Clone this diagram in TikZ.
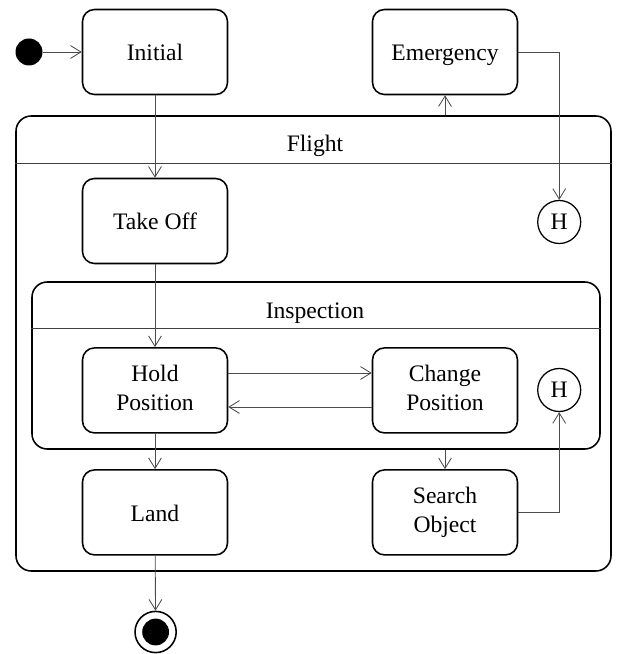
\documentclass[tikz,border=0pt]{standalone}
\usepackage{fontspec}
\setmainfont{Liberation Serif}
\usepackage{xcolor}
\usetikzlibrary{arrows.meta}

\begin{document}
\begin{tikzpicture}[
  font=\fontsize{16.8}{20.6}\selectfont,
  state/.style={rectangle,draw,line width=1.1pt,rounded corners=0.3cm,minimum width=3.625cm,minimum height=2.125cm,align=center,execute at begin node={\rule{0pt}{0.95em}},execute at end node={\rule[-0.22em]{0pt}{0.22em}}},
  composite/.style={rectangle,draw,line width=1.1pt,rounded corners=0.38cm,inner sep=0pt},
  divider/.style={draw=black!75,line width=0.7pt},
  history/.style={circle,draw,line width=0.9pt,minimum size=1.075cm,inner sep=0pt},
  startdot/.style={circle,fill=black,minimum size=0.675cm,inner sep=0pt},
  enddot/.style={circle,draw,line width=1.1pt,minimum size=1.03cm,inner sep=0pt,path picture={\fill (path picture bounding box.center) circle (0.335cm);}},
  line/.style={draw=black!70,line width=0.6pt,-{Straight Barb[length=0.26cm,width=0.32cm]}}
]

\useasboundingbox (0,0) rectangle (15.4,-16.35);

\node[startdot] (start) at (0.725,-1.3) {};
\node[state] (initial) at (3.875,-1.3) {Initial};
\node[state] (emergency) at (11.125,-1.3) {Emergency};

\node[composite,minimum width=14.875cm,minimum height=11.375cm] (flight) at (7.8375,-8.5875) {};
\draw[divider] (flight.west |- 0,-4.075) -- (flight.east |- 0,-4.075);
\node (flightlabel) at (7.875,-3.65) {Flight};

\node[state] (takeoff) at (3.875,-5.525) {Take Off};
\node[history] (hflight) at (13.98,-5.55) {H};

\node[composite,minimum width=14.2cm,minimum height=4.175cm] (inspection) at (7.9,-9.1375) {};
\draw[divider] (inspection.west |- 0,-8.2) -- (inspection.east |- 0,-8.2);
\node (inspectionlabel) at (7.875,-7.83) {Inspection};

\node[state] (hold) at (3.875,-9.76) {Hold\\Position};
\node[state] (change) at (11.125,-9.76) {Change\\Position};
\node[history] (hinspection) at (13.98,-9.75) {H};

\node[state] (land) at (3.875,-12.81) {Land};
\node[state] (search) at (11.125,-12.81) {Search\\Object};

\node[enddot] (end) at (3.89,-15.8) {};

\draw[line] (start) -- (initial);
\draw[line] (initial) -- (takeoff);
\draw[line] (flight.north -| emergency) -- (emergency);
\draw[line] (emergency.east) -| (hflight.north);
\draw[line] (takeoff) -- (hold);
\draw[line] ([yshift=0.435cm]hold.east) -- ([yshift=0.435cm]change.west);
\draw[line] ([yshift=-0.415cm]change.west) -- ([yshift=-0.415cm]hold.east);
\draw[line] (hold) -- (land);
\draw[line] (inspection.south -| search) -- (search);
\draw[line] (search.east) -| (hinspection.south);
\draw[line] (land) -- (end);

\end{tikzpicture}
\end{document}
